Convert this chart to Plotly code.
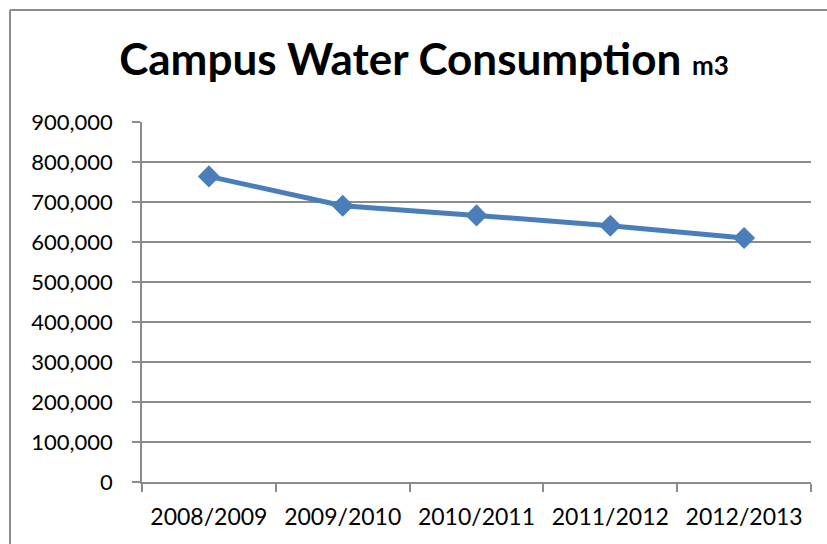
import plotly.graph_objects as go

years = ["2008/2009", "2009/2010", "2010/2011", "2011/2012", "2012/2013"]
consumption = [764000, 690500, 666500, 640500, 610000]
y_ticks = [0, 100000, 200000, 300000, 400000, 500000, 600000, 700000, 800000, 900000]

W, H = 827, 544
ML, MR, MT, MB = 142, 16, 122, 62
pw = W - ML - MR
ph = H - MT - MB

line_color = "#4A7EBB"
grid_color = "#8C8C8C"
font_family = "Lato, 'Open Sans', sans-serif"

fig = go.Figure()
fig.add_trace(go.Scatter(
    x=years, y=consumption, mode="lines+markers",
    line=dict(color=line_color, width=5),
    marker=dict(symbol="diamond", size=17, color=line_color),
    showlegend=False, hoverinfo="x+y", cliponaxis=False,
))

fig.update_layout(
    width=W, height=H,
    margin=dict(l=ML, r=MR, t=MT, b=MB),
    paper_bgcolor="white", plot_bgcolor="white",
    font=dict(family=font_family, color="black", size=22),
    title=dict(
        text="<b>Campus Water Consumption <span style='font-size:26px'>m3</span></b>",
        x=424 / W, xanchor="center",
        y=1 - 60 / H, yanchor="middle", yref="container",
        font=dict(family=font_family, size=44, color="black"),
    ),
    xaxis=dict(
        type="category", tickson="boundaries", range=[-0.5, len(years) - 0.5],
        showline=True, linecolor=grid_color, linewidth=1.5,
        ticks="outside", ticklen=8, tickwidth=1.5, tickcolor=grid_color,
        showgrid=False, zeroline=False, automargin=False,
        tickfont=dict(size=23, family=font_family, color="black"),
        ticklabelstandoff=14,
    ),
    yaxis=dict(
        range=[0, 900000], tickvals=y_ticks, tickformat=",d",
        showline=True, linecolor=grid_color, linewidth=1.5,
        ticks="outside", ticklen=8, tickwidth=1.5, tickcolor=grid_color,
        showgrid=True, gridcolor=grid_color, gridwidth=1.5,
        zeroline=False, automargin=False,
        tickfont=dict(size=22, family=font_family, color="black"),
        ticklabelstandoff=15,
    ),
)

# outer chart border (left and top edges)
bx = (10 - ML) / pw
by = (H - 10 - MB) / ph
fig.add_shape(type="line", xref="paper", yref="paper", x0=bx, x1=bx, y0=by, y1=-MB / ph - 0.01,
              line=dict(color=grid_color, width=2))
fig.add_shape(type="line", xref="paper", yref="paper", x0=bx, x1=(W - ML) / pw + 0.01, y0=by, y1=by,
              line=dict(color=grid_color, width=2))

fig.write_html("out.html", config={"displayModeBar": False},
               post_script="document.body.style.margin='0px';document.body.style.padding='0px';")
